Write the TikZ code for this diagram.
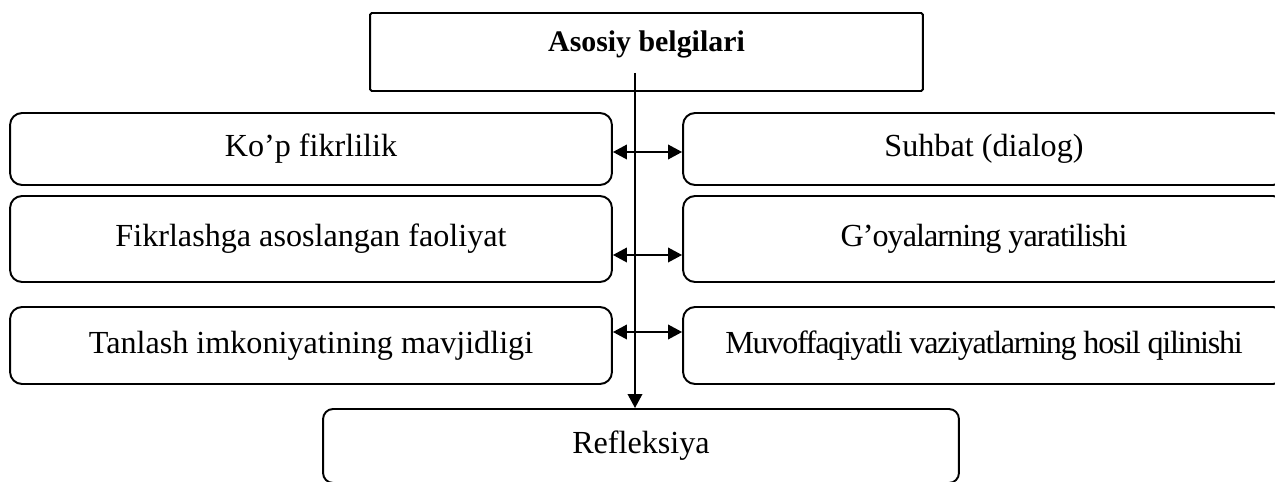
\documentclass[tikz,border=0pt]{standalone}
\usepackage{fontspec}
\setmainfont{Liberation Serif}
\usetikzlibrary{arrows.meta}

\begin{document}
\begin{tikzpicture}[x=0.02cm, y=-0.02cm,
	box/.style={draw, line width=1.1pt, rounded corners=0.24cm, minimum width=12.04cm, inner sep=0pt, font=\fontsize{18.3}{22}\selectfont},
	narrow/.style={font=\fontsize{18.3}{22}\selectfont\addfontfeature{LetterSpace=#1}},
	arr/.style={line width=1.1pt, -{Triangle[length=0.28cm, width=0.29cm]}},
	biarr/.style={line width=1.1pt, {Triangle[length=0.28cm, width=0.29cm]}-{Triangle[length=0.28cm, width=0.29cm]}}]
	\useasboundingbox (0,0) rectangle (1275,482);

	\node[box, rounded corners=1pt, minimum width=11.06cm, minimum height=1.56cm, font=\fontsize{17}{20}\selectfont\bfseries, text depth=0.45cm] (top) at (646.5,52) {Asosiy belgilari};

	\node[box, minimum height=1.44cm] (l1) at (311,149) {Ko’p fikrlilik};
	\node[box, minimum height=1.72cm] (l2) at (311,239) {Fikrlashga asoslangan faoliyat};
	\node[box, minimum height=1.54cm] (l3) at (311,345.5) {Tanlash imkoniyatining mavjidligi};

	\node[box, minimum height=1.44cm] (r1) at (984,149) {Suhbat (dialog)};
	\node[box, narrow=-3, minimum height=1.72cm] (r2) at (984,239) {G’oyalarning yaratilishi};
	\node[box, narrow=-4, minimum height=1.54cm] (r3) at (984,345.5) {Muvoffaqiyatli vaziyatlarning hosil qilinishi};

	\node[box, rounded corners=0.2cm, minimum width=12.72cm, minimum height=1.48cm] (refl) at (641,446) {Refleksiya};

	\draw[biarr] ([yshift=-0.06cm]l1.east) -- ([yshift=-0.06cm]r1.west);
	\draw[biarr] ([yshift=-0.32cm]l2.east) -- ([yshift=-0.32cm]r2.west);
	\draw[biarr] ([yshift=0.27cm]l3.east) -- ([yshift=0.27cm]r3.west);

	\coordinate (s0) at (635,73);
	\draw[arr] (s0) -- (s0 |- refl.north);
\end{tikzpicture}
\end{document}
